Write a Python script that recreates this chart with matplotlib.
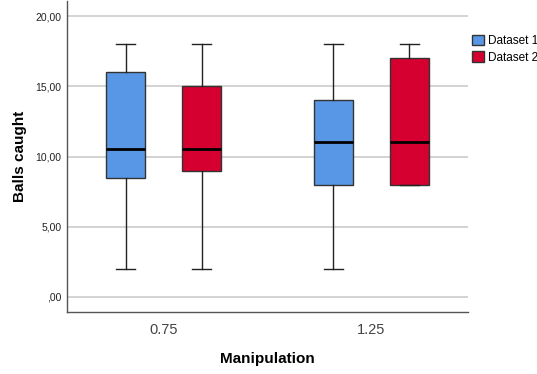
import matplotlib
matplotlib.use("Agg")
import matplotlib.pyplot as plt
from matplotlib.patches import Patch

plt.rcParams['font.family'] = ['Liberation Sans', 'DejaVu Sans']

groups = ['0.75', '1.25']
series = ['Dataset 1', 'Dataset 2']
colors = ['#5797E6', '#D5002F']

# min, q1, median, q3, max per group
d1_min = [2, 2]
d1_q1 = [8.5, 8]
d1_med = [10.5, 11]
d1_q3 = [16, 14]
d1_max = [18, 18]

d2_min = [2, 8]
d2_q1 = [9, 8]
d2_med = [10.5, 11]
d2_q3 = [15, 17]
d2_max = [18, 18]

yticks = [0, 5, 10, 15, 20]
ytick_labels = [',00', '5,00', '10,00', '15,00', '20,00']


def make_stats(mn, q1, med, q3, mx):
    return [dict(whislo=a, q1=b, med=c, q3=d, whishi=e, fliers=[])
            for a, b, c, d, e in zip(mn, q1, med, q3, mx)]


fig = plt.figure(figsize=(5.37, 3.74), dpi=100)
ax = fig.add_axes([67 / 537, 62 / 374, 401 / 537, 311 / 374])

all_stats = [make_stats(d1_min, d1_q1, d1_med, d1_q3, d1_max),
             make_stats(d2_min, d2_q1, d2_med, d2_q3, d2_max)]
offsets = [-0.183, 0.183]

for stats, off, col in zip(all_stats, offsets, colors):
    pos = [i + off for i in range(len(groups))]
    bp = ax.bxp(stats, positions=pos, widths=0.187, patch_artist=True,
                showfliers=False, manage_ticks=False,
                boxprops=dict(facecolor=col, edgecolor='#333333', linewidth=1.0),
                medianprops=dict(color='black', linewidth=2.0),
                whiskerprops=dict(color='#222222', linewidth=1.0),
                capprops=dict(color='#222222', linewidth=1.0),
                capwidths=0.093)
    for b in bp['boxes']:
        b.set_zorder(3)
    for k in ['whiskers', 'caps', 'medians']:
        for l in bp[k]:
            l.set_zorder(4)

ax.set_xlim(-0.466, 1.466)
ax.set_ylim(-1.07, 21.07)
ax.set_xticks(range(len(groups)))
ax.set_xticklabels(groups)
ax.set_yticks(yticks)
ax.set_yticklabels(ytick_labels)
ax.tick_params(axis='x', length=0, labelsize=10.5, labelcolor='#444444', pad=8)
ax.tick_params(axis='y', length=0, labelsize=7.5, labelcolor='#222222', pad=4)
ax.yaxis.grid(True, color='#cccccc', linewidth=1.2, zorder=0)
ax.set_axisbelow(True)

for s in ['top', 'right']:
    ax.spines[s].set_visible(False)
for s in ['left', 'bottom']:
    ax.spines[s].set_color('#555555')
    ax.spines[s].set_linewidth(1.0)

ax.set_xlabel('Manipulation', fontsize=11, fontweight='bold', labelpad=11)
ax.set_ylabel('Balls caught', fontsize=11, fontweight='bold', labelpad=6)

handles = [Patch(facecolor=c, edgecolor='#333333', label=s) for s, c in zip(series, colors)]
fig.legend(handles=handles, loc='upper left', bbox_to_anchor=(467 / 537, 1 - 30 / 374),
           frameon=False, fontsize=8.5, handlelength=1.0, handleheight=1.0,
           handletextpad=0.35, labelspacing=0.35, borderaxespad=0)

fig.savefig('out.png', dpi=100)
